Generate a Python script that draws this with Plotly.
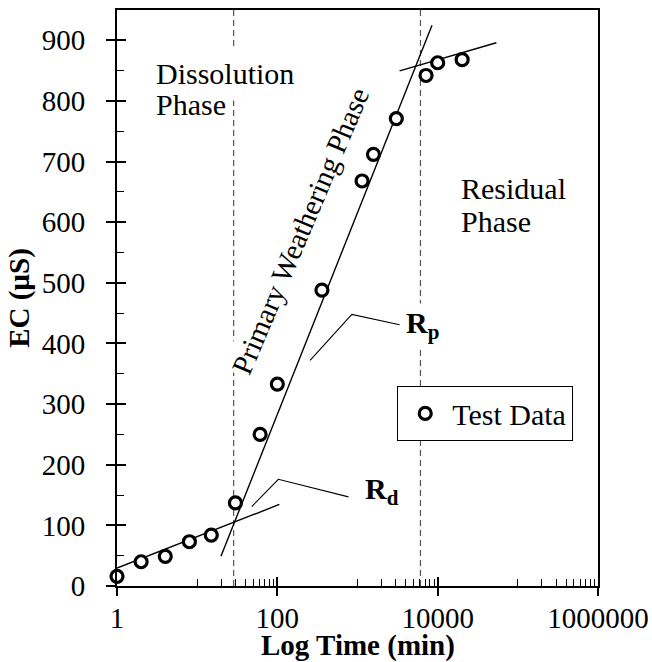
import math
import plotly.graph_objects as go

# ---- data ----
time_min = [1, 2, 4, 8, 15, 30, 61, 100, 360, 1140, 1580, 3050, 7160, 10000, 20200]
ec_us = [16, 40, 49, 73, 84, 137, 250, 333, 488, 668, 712, 771, 842, 863, 868]

diss_t = [1, 106]
diss_ec = [29.5, 134.5]
prim_t = [19.8, 8500]
prim_ec = [49, 925]
resid_t = [3350, 54000]
resid_ec = [849.5, 896]

rp_lead_t = [256, 851, 3350]
rp_lead_ec = [372, 448, 431]
rd_lead_t = [48, 103, 772]
rd_lead_ec = [131, 176, 147]

phase_bound_t = [28.5, 6100]

x_tickvals = [1, 100, 10000, 1000000]
x_ticktext = ["1", "100", "10000", "1000000"]
x_minorvals = [k * 10 for k in range(1, 10)] + [k * 1000 for k in range(1, 10)] + [k * 100000 for k in range(1, 10)]
y_tickvals = list(range(0, 901, 100))
y_minorvals = list(range(50, 951, 100))

FONT = "Liberation Serif, Times New Roman, serif"
FS = 29

fig = go.Figure()

# phase boundaries (dashed)
for tb in phase_bound_t:
    fig.add_trace(go.Scatter(x=[tb, tb], y=[0, 950], mode="lines",
                             line=dict(color="#555555", width=1.2, dash="6px,4px"),
                             showlegend=False, hoverinfo="skip"))

# fitted lines
for tx, ty in [(diss_t, diss_ec), (prim_t, prim_ec), (resid_t, resid_ec)]:
    fig.add_trace(go.Scatter(x=tx, y=ty, mode="lines", line=dict(color="black", width=1.4),
                             showlegend=False, hoverinfo="skip"))

# leader lines
for tx, ty in [(rp_lead_t, rp_lead_ec), (rd_lead_t, rd_lead_ec)]:
    fig.add_trace(go.Scatter(x=tx, y=ty, mode="lines", line=dict(color="black", width=1.1),
                             showlegend=False, hoverinfo="skip"))

# test data
fig.add_trace(go.Scatter(x=time_min, y=ec_us, mode="markers", name="Test Data",
                         marker=dict(symbol="circle", size=12, color="white",
                                     line=dict(color="black", width=3.2)),
                         cliponaxis=False))

# invisible copy on the overlay axes so that their (inside) ticks get drawn
fig.add_trace(go.Scatter(x=time_min, y=ec_us, mode="markers", xaxis="x2", yaxis="y2",
                         marker=dict(opacity=0), showlegend=False, hoverinfo="skip"))

ann = []
def text(x, y, s, xanchor="left", angle=0, bg=None, pad=1, bold=False, size=FS):
    ann.append(dict(x=x, y=y, xref="x", yref="y", text=(f"<b>{s}</b>" if bold else s),
                    showarrow=False, xanchor=xanchor, yanchor="middle", textangle=angle,
                    font=dict(family=FONT, size=size, color="black"),
                    bgcolor=bg, borderpad=pad))

text(0.355, 846, "Dissolution", bg="white", pad=10, size=30)
text(0.432, 793.5, "Phase", bg="white", pad=3, size=30)
text(4.284, 655, "Residual", pad=0, size=30)
text(4.284, 601, "Phase", pad=0, size=30)
text(2.284, 586, "Primary Weathering Phase", xanchor="center", angle=-67, bg="white", pad=2)
text(3.572, 431, "R<sub>p</sub>", bg="white", pad=2, bold=True, size=30)
text(3.05, 156, "R<sub>d</sub>", bg="white", pad=2, bold=True, size=30)

# x-axis title
ann.append(dict(x=0.5, y=-0.104, xref="paper", yref="paper", text="<b>Log Time (min)</b>",
                showarrow=False, xanchor="center", yanchor="middle",
                font=dict(family=FONT, size=FS, color="black")))

axis_common = dict(showgrid=False, zeroline=False, color="black")

fig.update_layout(
    width=652, height=662,
    margin=dict(l=117, r=54, t=10, b=76),
    paper_bgcolor="white", plot_bgcolor="white",
    font=dict(family=FONT, size=FS, color="black"),
    showlegend=True,
    legend=dict(x=0.582, y=0.347, xanchor="left", yanchor="top",
                bgcolor="white", bordercolor="black", borderwidth=1.3,
                font=dict(family=FONT, size=30), itemwidth=44),
    annotations=ann,
    xaxis=dict(type="log", range=[0, 6], tickmode="array", tickvals=x_tickvals, ticktext=x_ticktext,
               ticks="outside", ticklen=8, tickwidth=1.6, tickcolor="black",
               showline=True, linecolor="black", linewidth=2, mirror=True, automargin=False,
               tickfont=dict(family=FONT, size=FS),
               ticklabelstandoff=-3, **axis_common),
    yaxis=dict(range=[0, 950], tickmode="array", tickvals=y_tickvals,
               ticks="outside", ticklen=9, tickwidth=1.6, tickcolor="black",
               showline=True, linecolor="black", linewidth=2, mirror=True, automargin=False,
               tickfont=dict(family=FONT, size=FS),
               title=dict(text="<b>EC (µS)</b>", font=dict(family=FONT, size=FS), standoff=4),
               ticklabelstandoff=15, **axis_common),
    xaxis2=dict(type="log", range=[0, 6], overlaying="x", anchor="y", side="bottom",
                tickmode="array", tickvals=x_tickvals, ticks="inside", ticklen=9, tickwidth=1.6,
                tickcolor="black", showticklabels=False, showline=False, automargin=False,
                minor=dict(tickmode="array", tickvals=x_minorvals, ticks="inside", ticklen=7,
                           tickwidth=1.3, tickcolor="black"), **axis_common),
    yaxis2=dict(range=[0, 950], overlaying="y", anchor="x", side="left",
                tickmode="array", tickvals=y_tickvals, ticks="inside", ticklen=9, tickwidth=1.6,
                tickcolor="black", showticklabels=False, showline=False, automargin=False,
                minor=dict(tickmode="array", tickvals=y_minorvals, ticks="inside", ticklen=7,
                           tickwidth=1.3, tickcolor="black"), **axis_common),
)

fig.write_html("out.html")
